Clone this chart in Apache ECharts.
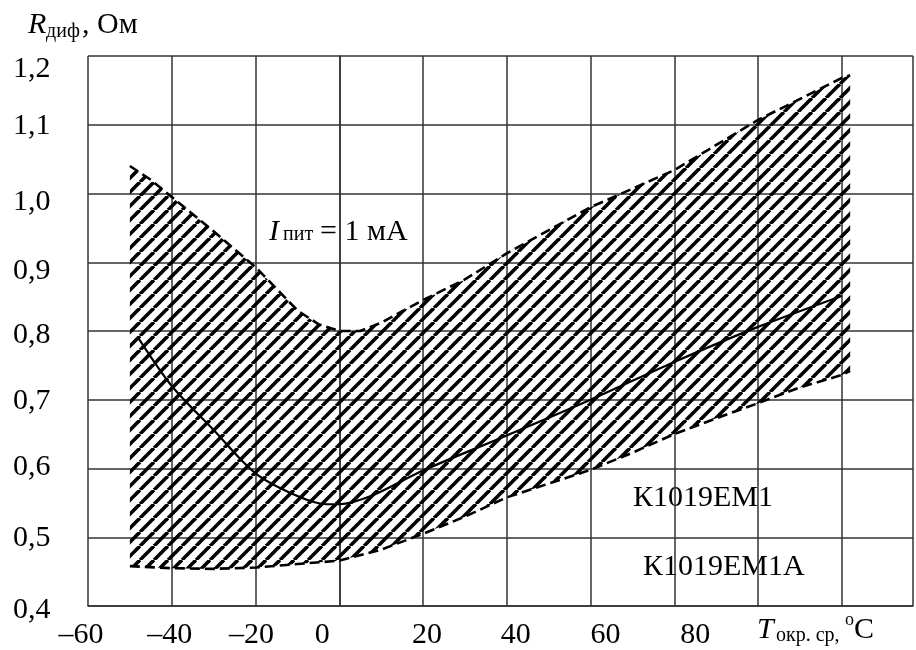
<!DOCTYPE html>
<html>
<head>
<meta charset="utf-8">
<script src="https://cdn.jsdelivr.net/npm/echarts@6/dist/echarts.min.js"></script>
<style>
html, body { margin: 0; padding: 0; background: #fff; }
#chart { width: 916px; height: 650px; }
</style>
</head>
<body>
<div id="chart"></div>
<script>
// ось температуры, подписи до 80 (дальше стоит обозначение оси)
var tempTicks = [-60, -40, -20, 0, 20, 40, 60, 80];
var resTicks = [0.4, 0.5, 0.6, 0.7, 0.8, 0.9, 1.0, 1.1, 1.2];

// верхняя граница заштрихованной области
var upperT = [-50, -45, -40, -30, -20, -10, -5, 0, 5, 10, 20, 30, 40, 60, 80, 100, 120, 122];
var upperR = [1.04, 1.02, 0.995, 0.945, 0.893, 0.83, 0.81, 0.80, 0.80, 0.812, 0.845, 0.875, 0.913, 0.98, 1.034, 1.107, 1.168, 1.172];
// нижняя граница
var lowerT = [-50, -40, -30, -20, -10, 0, 10, 20, 30, 40, 50, 60, 70, 80, 90, 100, 110, 120, 122];
var lowerR = [0.458, 0.455, 0.454, 0.456, 0.461, 0.466, 0.482, 0.505, 0.53, 0.558, 0.578, 0.598, 0.623, 0.65, 0.673, 0.695, 0.718, 0.736, 0.742];
// средняя кривая
var midT = [-48, -40, -30, -20, -10, -3, 0, 8, 20, 40, 60, 80, 100, 120];
var midR = [0.79, 0.72, 0.656, 0.593, 0.56, 0.548, 0.548, 0.561, 0.597, 0.648, 0.70, 0.755, 0.806, 0.851];

var FONT = "'Liberation Serif', 'Times New Roman', serif";

// сдвиги подписей как в оригинале (px)
var xNudge = [-7, -2, -4, -17, 4, 9, 15, 21];
var yNudge = [4, 1, -1, 1, 4, 9, 9, 1, 13];

function pairs(xs, ys) {
    var out = [];
    for (var i = 0; i < xs.length; ++i) {
        out.push([xs[i], ys[i]]);
    }
    return out;
}

function makeHatch() {
    var p = 14;
    var c = document.createElement('canvas');
    c.width = p;
    c.height = p;
    var ctx = c.getContext('2d');
    ctx.strokeStyle = '#000';
    ctx.lineWidth = 3.6;
    for (var k = -1; k <= 1; ++k) {
        ctx.beginPath();
        ctx.moveTo(k * p, p);
        ctx.lineTo(k * p + p, 0);
        ctx.stroke();
    }
    return { image: c, repeat: 'repeat' };
}

var hatch = makeHatch();

function txt(x, y, s, size, italic) {
    return {
        type: 'text', left: x, top: y - size / 2, silent: true,
        style: { text: s, fill: '#000', font: (italic ? 'italic ' : '') + size + 'px ' + FONT }
    };
}

var xRich = {}, yRich = {};
for (var i = 0; i < xNudge.length; ++i) {
    var d = xNudge[i];
    xRich['x' + i] = { fontFamily: FONT, fontSize: 30, color: '#000',
        padding: [0, d < 0 ? -2 * d : 0, 0, d > 0 ? 2 * d : 0] };
}
for (var j = 0; j < yNudge.length; ++j) {
    yRich['y' + j] = { fontFamily: FONT, fontSize: 30, color: '#000',
        padding: [2 * yNudge[j], 0, 0, 0] };
}

var chart = echarts.init(document.getElementById('chart'));
chart.setOption({
    animation: false,
    backgroundColor: '#fff',
    grid: { left: 88, top: 56, right: 0, bottom: 44 },
    xAxis: {
        type: 'value', min: -60, max: 137, interval: 20,
        axisLine: { show: true, lineStyle: { color: '#333', width: 1.5 } },
        axisTick: { show: false },
        splitLine: { show: true, lineStyle: { color: '#333', width: 1.5 } },
        axisLabel: {
            margin: 14, color: '#000', fontFamily: FONT, fontSize: 30, rich: xRich,
            formatter: function (v) {
                var k = tempTicks.indexOf(v);
                if (k < 0) return '';
                return '{x' + k + '|' + (v < 0 ? '\u2013' + (-v) : String(v)) + '}';
            }
        }
    },
    yAxis: {
        type: 'value', min: 0.4, max: 1.2, interval: 0.1,
        axisLine: { show: true, lineStyle: { color: '#333', width: 1.5 } },
        axisTick: { show: false },
        splitLine: { show: true, lineStyle: { color: '#333', width: 1.5 } },
        axisLabel: {
            margin: 75, align: 'left', color: '#000', fontFamily: FONT, fontSize: 30, rich: yRich,
            formatter: function (v) {
                var k = Math.round((v - resTicks[0]) * 10);
                return '{y' + k + '|' + v.toFixed(1).replace('.', ',') + '}';
            }
        }
    },
    series: [
        {
            type: 'custom',
            coordinateSystem: 'cartesian2d',
            silent: true,
            z: 3,
            data: [[upperT[0], upperR[0]]],
            renderItem: function (params, api) {
                var pts = [];
                for (var i = 0; i < upperT.length; ++i) {
                    pts.push(api.coord([upperT[i], upperR[i]]));
                }
                for (var j = lowerT.length - 1; j >= 0; --j) {
                    pts.push(api.coord([lowerT[j], lowerR[j]]));
                }
                return { type: 'polygon', shape: { points: pts }, style: { fill: hatch, stroke: null } };
            }
        },
        {
            type: 'line', data: pairs(upperT, upperR), showSymbol: false, silent: true, z: 4,
            lineStyle: { color: '#000', width: 2.6, type: [10, 5] }
        },
        {
            type: 'line', data: pairs(lowerT, lowerR), showSymbol: false, silent: true, z: 4,
            lineStyle: { color: '#000', width: 2.6, type: [10, 5] }
        },
        {
            type: 'line', data: pairs(midT, midR), showSymbol: false, silent: true, z: 5, smooth: 0.3,
            lineStyle: { color: '#000', width: 2.2 }
        }
    ],
    graphic: [
        txt(28, 25, 'R', 30, true),
        txt(46, 32, 'диф', 20, false),
        txt(82, 25, ', Ом', 30, false),
        txt(269, 232, 'I', 30, true),
        txt(283, 235, 'пит', 20, false),
        txt(320, 232, '= 1 мА', 30, false),
        txt(633, 498, 'К1019ЕМ1', 30, false),
        txt(643, 567, 'К1019ЕМ1А', 30, false),
        txt(757, 630, 'T', 30, true),
        txt(776, 636, 'окр. ср,', 20, false),
        txt(845, 620, 'o', 18, false),
        txt(854, 630, 'C', 30, false)
    ]
});
</script>
</body>
</html>
